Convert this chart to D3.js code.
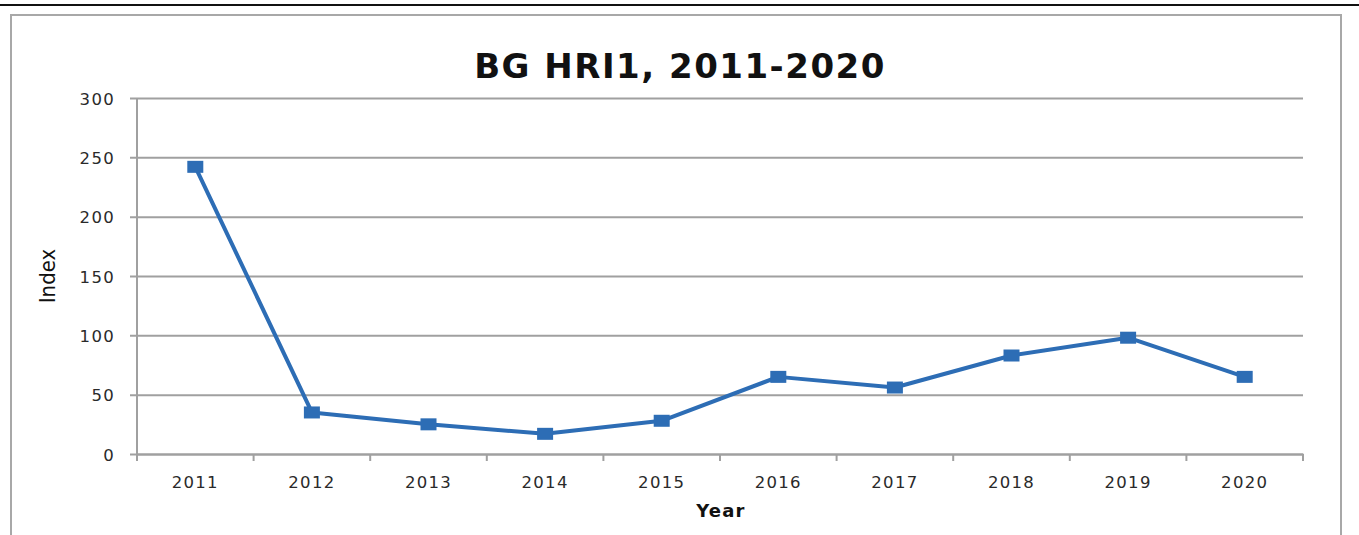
<!doctype html>
<html>
<head>
<meta charset="utf-8">
<title>BG HRI1</title>
<script src="https://d3js.org/d3.v7.min.js"></script>
<style>
    body { margin: 0; background: #fff; }
    .tick text { font-family: "DejaVu Sans", Verdana, sans-serif; font-size: 16.5px; letter-spacing: 1.3px; fill: #2a2a2a; }
</style>
</head>
<body>
<svg id="chart" width="1359" height="535"></svg>
<script>
var years = ["2011", "2012", "2013", "2014", "2015", "2016", "2017", "2018", "2019", "2020"];
var hri1 = [242, 35, 25, 17, 28, 65, 56, 83, 98, 65];
var yTicks = [0, 50, 100, 150, 200, 250, 300];

var svg = d3.select("#chart");
var plot = { left: 137, right: 1303, top: 98, bottom: 454 };

// page rule + chart frame
svg.append("line").attr("x1", 0).attr("x2", 1359).attr("y1", 5).attr("y2", 5)
    .style("stroke", "#111").style("stroke-width", 2);
svg.append("rect").attr("x", 11).attr("y", 15).attr("width", 1330).attr("height", 540)
    .style("fill", "none").style("stroke", "#a8a8a8").style("stroke-width", 2);

var x = d3.scaleBand().domain(years).range([plot.left, plot.right]);
var y = d3.scaleLinear().domain([0, 300]).range([plot.bottom, plot.top]);

// y axis with gridlines
var yAxis = svg.append("g").attr("transform", "translate(" + plot.left + ",0)")
    .call(d3.axisLeft(y).tickValues(yTicks).tickSize(-(plot.right - plot.left)).tickPadding(22));
yAxis.select(".domain").remove();
yAxis.selectAll(".tick line").style("stroke", "#a0a0a0").style("stroke-width", 2)
    .attr("x1", -7);
yAxis.selectAll(".tick text").attr("dy", "0.38em");
yAxis.append("line").attr("x1", 0).attr("x2", 0).attr("y1", plot.top).attr("y2", plot.bottom)
    .style("stroke", "#a0a0a0").style("stroke-width", 2);

// x axis: tick marks at category boundaries
var xAxis = svg.append("g").attr("transform", "translate(0," + plot.bottom + ")")
    .call(d3.axisBottom(x).tickSize(0).tickPadding(22));
xAxis.select(".domain").style("stroke", "#a0a0a0").style("stroke-width", 2);
xAxis.selectAll(".boundary").data(d3.range(years.length + 1)).enter().append("line")
    .attr("x1", function (i) { return plot.left + i * x.step(); })
    .attr("x2", function (i) { return plot.left + i * x.step(); })
    .attr("y1", 0).attr("y2", 7)
    .style("stroke", "#a0a0a0").style("stroke-width", 2);

// series
var pts = years.map(function (d, i) { return { year: d, value: hri1[i] }; });
var line = d3.line()
    .x(function (d) { return x(d.year) + x.bandwidth() / 2; })
    .y(function (d) { return y(d.value); });
svg.append("path").datum(pts).attr("d", line)
    .style("fill", "none").style("stroke", "#2d6db5").style("stroke-width", 4)
    .style("stroke-linejoin", "round");
svg.selectAll(".marker").data(pts).enter().append("rect")
    .attr("x", function (d) { return x(d.year) + x.bandwidth() / 2 - 8; })
    .attr("y", function (d) { return y(d.value) - 6; })
    .attr("width", 16).attr("height", 12)
    .style("fill", "#2d6db5");

// titles
svg.append("text").attr("x", 680).attr("y", 78).attr("text-anchor", "middle")
    .style("font-family", "'DejaVu Sans', Verdana, sans-serif").style("font-weight", "bold")
    .style("font-size", "34px").style("letter-spacing", "1.5px").style("fill", "#111")
    .text("BG HRI1, 2011-2020");
svg.append("text").attr("x", 721).attr("y", 517).attr("text-anchor", "middle")
    .style("font-family", "'DejaVu Sans', Verdana, sans-serif").style("font-weight", "bold")
    .style("font-size", "18px").style("letter-spacing", "1.2px").style("fill", "#111").text("Year");
svg.append("text").attr("transform", "translate(55,276) rotate(-90)").attr("text-anchor", "middle")
    .style("font-family", "'Liberation Sans Narrow', 'DejaVu Sans Condensed', sans-serif")
    .style("font-size", "22px").style("fill", "#111").text("Index");
</script>
</body>
</html>
